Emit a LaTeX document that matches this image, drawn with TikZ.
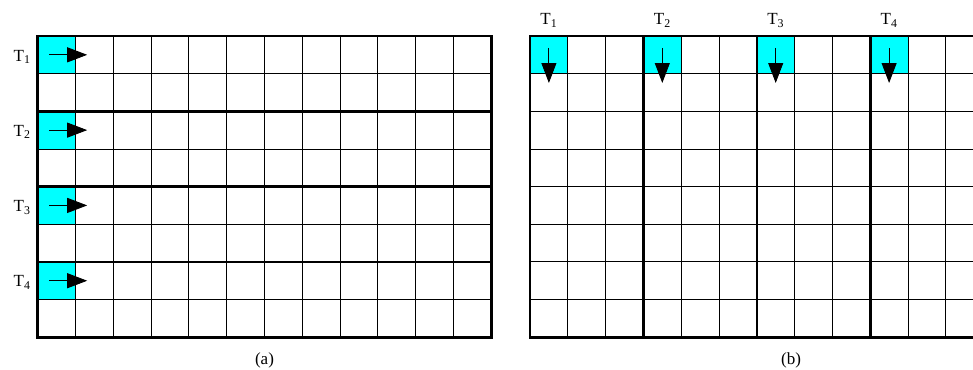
\documentclass[tikz,border=0pt]{standalone}
\usepackage{fontspec}
\setmainfont{Liberation Serif}
\usetikzlibrary{arrows.meta}
\definecolor{cellcyan}{RGB}{0,255,255}
\tikzset{
  thinline/.style={line width=0.9pt},
  bandline/.style={line width=2.6pt},
  startcell/.style={fill=cellcyan},
  flow/.style={line width=0.9pt,-{Triangle[length=20pt,width=15pt]}},
  tlabel/.style={font=\fontsize{17}{17}\selectfont,inner sep=0pt},
  caption/.style={font=\fontsize{17}{17}\selectfont,inner sep=0pt}
}
\def\cw{37.8}
\def\ch{37.65}
\begin{document}
\begin{tikzpicture}[x=1pt,y=-1pt]
  \useasboundingbox (0,0) rectangle (973,369);
  \clip (0,0) rectangle (973,369);
  % (a) one band of two rows per thread
  \begin{scope}[shift={(37.7,36)}]
    \foreach \r/\n in {0/1,2/2,4/3,6/4}{
      \fill[startcell] (0,{\r*\ch}) rectangle (\cw,{(\r+1)*\ch});
      \node[tlabel,anchor=base east] (lt\n) at (-7,{\r*\ch+25}) {T\textsubscript{\n}};
    }
    \foreach \c in {1,...,11}
      \draw[thinline] ({\c*\cw},0) -- ({\c*\cw},{8*\ch});
    \foreach \r in {1,3,5,7}
      \draw[thinline] (0,{\r*\ch}) -- ({12*\cw},{\r*\ch});
    \foreach \r in {2,4,6}
      \draw[bandline] (0,{\r*\ch}) -- ({12*\cw},{\r*\ch});
    \draw[bandline] (0,0) rectangle ({12*\cw},{8*\ch});
    \foreach \r in {0,2,4,6}
      \draw[flow] (11.3,{(\r+0.5)*\ch}) -- (49.5,{(\r+0.5)*\ch});
  \end{scope}
  % (b) one band of three columns per thread
  \begin{scope}[shift={(530,36)}]
    \foreach \c/\n in {0/1,3/2,6/3,9/4}{
      \fill[startcell] ({\c*\cw},0) rectangle ({(\c+1)*\cw},\ch);
      \node[tlabel,anchor=base] (rt\n) at ({(\c+0.5)*\cw},-11) {T\textsubscript{\n}};
    }
    \foreach \c in {1,2,4,5,7,8,10,11}
      \draw[thinline] ({\c*\cw},0) -- ({\c*\cw},{8*\ch});
    \foreach \c in {3,6,9}
      \draw[bandline] ({\c*\cw},0) -- ({\c*\cw},{8*\ch});
    \foreach \r in {1,...,7}
      \draw[thinline] (0,{\r*\ch}) -- ({12*\cw},{\r*\ch});
    \draw[bandline] (0,0) rectangle ({12*\cw},{8*\ch});
    \foreach \c in {0,3,6,9}
      \draw[flow] ({(\c+0.5)*\cw},12) -- ({(\c+0.5)*\cw},47);
  \end{scope}
  \node[caption,anchor=base] (capa) at (264.5,364) {(a)};
  \node[caption,anchor=base] (capb) at (791,364) {(b)};
\end{tikzpicture}
\end{document}
